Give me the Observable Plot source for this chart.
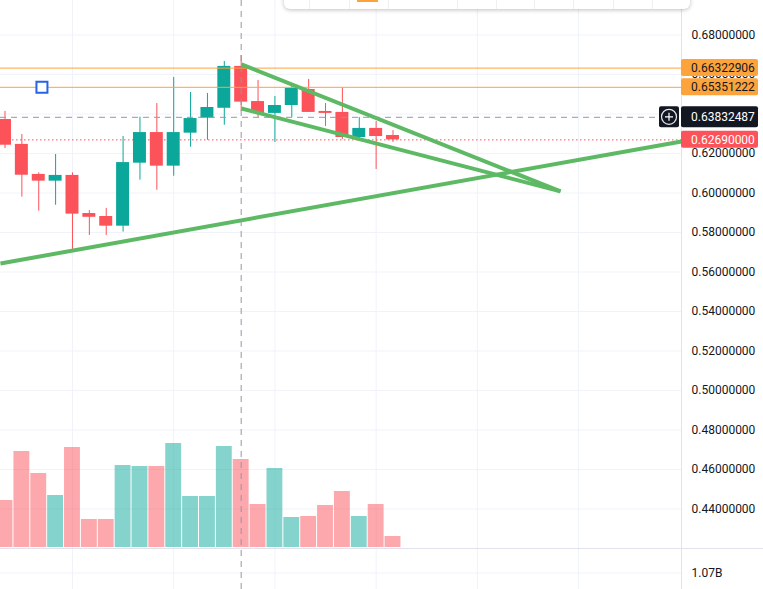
<!DOCTYPE html>
<html><head><meta charset="utf-8">
<script src="https://cdn.jsdelivr.net/npm/d3@7"></script>
<script src="https://cdn.jsdelivr.net/npm/@observablehq/plot@0.6"></script>
<style>
body{margin:0;background:#fff;}
#chart{position:relative;width:763px;height:589px;overflow:hidden;font-family:Roboto,"Liberation Sans",sans-serif;background:#fff;}
#chart > svg{position:absolute;left:0;top:0;}
#sep{position:absolute;left:0;top:548px;width:763px;height:1px;background:#e0e3eb;}
#toolbar{position:absolute;left:284px;top:-8px;width:406px;height:17px;background:#fff;border-radius:6px;box-shadow:0 1px 4px rgba(0,0,0,0.25);z-index:5;}
#toolbar .d{position:absolute;top:8px;width:1px;height:9px;background:#eef0f3;}
#toolbar .o{position:absolute;top:8px;left:73px;width:21px;height:2px;background:#ffa23a;}
</style></head><body>
<div id="chart"></div>
<script>
// ---- data ----
const opens  = [0.6372,0.6246,0.6094,0.6060,0.6089,0.5896,0.5881,0.5832,0.6151,0.6306,0.6136,0.6303,0.6379,0.6429,0.6641,0.6463,0.6403,0.6443,0.6524,0.6413,0.6408,0.6281,0.6327,0.6291];
const highs  = [0.6413,0.6296,0.6102,0.6195,0.6102,0.5911,0.5922,0.6286,0.6384,0.6453,0.6585,0.6509,0.6504,0.6666,0.6696,0.6570,0.6489,0.6554,0.6575,0.6453,0.6534,0.6382,0.6362,0.6316];
const lows   = [0.6225,0.5979,0.5908,0.5938,0.5709,0.5785,0.5785,0.5802,0.6065,0.6014,0.6085,0.6232,0.6267,0.6343,0.6413,0.6382,0.6256,0.6382,0.6408,0.6337,0.6271,0.6271,0.6119,0.6256];
const closes = [0.6242,0.6090,0.6060,0.6089,0.5893,0.5877,0.5832,0.6154,0.6306,0.6136,0.6306,0.6377,0.6433,0.6641,0.6460,0.6403,0.6443,0.6529,0.6408,0.6403,0.6281,0.6327,0.6286,0.6269];
const volumes = [470,960,740,520,1000,280,280,820,810,810,1040,510,510,1010,880,430,790,300,310,420,560,310,430,110]; // millions

const priceTicks = [0.44,0.46,0.48,0.50,0.52,0.54,0.56,0.58,0.60,0.62,0.64,0.66,0.68];
const timeGridIndex = [4,10,16,22,28,34];
const lowerPaneTicks = [1.07e9];

const horizontalLines = [0.66322906, 0.65351222];
const lastPrice = 0.6269;
const crosshairIndex = 14;
const crosshairPrice = 0.63832487;
const lineHandle = [{i: 2.19, p: 0.65351222}];

const trendA = [{i: -0.27, p: 0.5643}, {i: 40.1, p: 0.6261}];
const trendB = [{i: 14.02, p: 0.6651}, {i: 32.93, p: 0.6008}];
const trendC = [{i: 14.02, p: 0.6428}, {i: 32.93, p: 0.6008}];

// ---- styles ----
const UP = "#0ca79b", DOWN = "#fc5259", ORANGE = "#fda33b", GREEN = "#5db963";
const GRID = "#f0f3fa", BORDER = "#e0e3eb", CROSS = "#9598a1", TEXT = "#131722";
const W = 763, H = 589, MR = 82;
const xView = [-0.2667, 40.101];
const priceDomain = [0.44, 0.68], priceRange = [508.5, 34.5];

const candles = opens.map((o, i) => ({i, open: o, high: highs[i], low: lows[i], close: closes[i], volume: volumes[i]}));
const colorOf = d => d.close >= d.open ? UP : DOWN;

const base = {width: W, height: H, marginLeft: 0, marginRight: MR, marginTop: 0, marginBottom: 0,
  style: {background: "transparent", fontFamily: "Roboto, 'Liberation Sans', sans-serif", fontSize: "12px", color: TEXT}};

const chart = document.getElementById("chart");

// grid layer
const gridPlot = Plot.plot({...base,
  x: {domain: xView, axis: null},
  y: {domain: priceDomain, range: priceRange, axis: null},
  marks: [
    Plot.ruleY(priceTicks, {stroke: GRID}),
    Plot.ruleX(timeGridIndex, {stroke: GRID}),
    Plot.frame({anchor: "right", stroke: BORDER})
  ]
});
chart.appendChild(gridPlot);

// lower pane
const lowerPlot = Plot.plot({...base,
  x: {domain: xView, axis: null},
  y: {domain: [0, 1.07e9], range: [640, 572.5]},
  marks: [
    Plot.ruleY(lowerPaneTicks, {stroke: GRID}),
    Plot.axisY(lowerPaneTicks, {anchor: "right", tickSize: 0, tickPadding: 10, fill: TEXT, fontSize: 12,
      tickFormat: d => (d / 1e9).toFixed(2) + "B"})
  ]
});
chart.appendChild(lowerPlot);

// volume layer
const volPlot = Plot.plot({...base,
  x: {domain: xView, axis: null},
  y: {domain: [0, 1040], range: [547, 443], axis: null},
  marks: [
    Plot.rect(candles, {x1: d => d.i - 0.5, x2: d => d.i + 0.5, y1: 0, y2: "volume",
      fill: colorOf, fillOpacity: 0.5, insetLeft: 0.5, insetRight: 0.5})
  ]
});
chart.appendChild(volPlot);

// main layer
const mainPlot = Plot.plot({...base,
  x: {domain: xView, axis: null},
  y: {domain: priceDomain, range: priceRange},
  marks: [
    Plot.axisY(priceTicks, {anchor: "right", tickSize: 0, tickPadding: 10, fill: TEXT, fontSize: 12,
      tickFormat: d => d.toFixed(8)}),
    Plot.ruleY([lastPrice], {stroke: DOWN, strokeDasharray: "1.5 2.5"}),
    Plot.ruleX(candles, {x: "i", y1: "low", y2: "high", stroke: colorOf}),
    Plot.rect(candles, {x1: d => d.i - 0.5, x2: d => d.i + 0.5, y1: "open", y2: "close",
      fill: colorOf, insetLeft: 1.95, insetRight: 1.95}),
    Plot.ruleY(horizontalLines, {stroke: ORANGE}),
    Plot.line(trendA, {x: "i", y: "p", stroke: GREEN, strokeWidth: 4, strokeLinecap: "butt"}),
    Plot.line(trendB, {x: "i", y: "p", stroke: GREEN, strokeWidth: 4, strokeLinecap: "butt"}),
    Plot.line(trendC, {x: "i", y: "p", stroke: GREEN, strokeWidth: 4, strokeLinecap: "butt"}),
    Plot.dot(lineHandle, {x: "i", y: "p", symbol: "square", r: 6.2, stroke: "#2464e6", strokeWidth: 2, fill: "#fff"}),
    Plot.ruleX([crosshairIndex], {stroke: CROSS, strokeDasharray: "6 5"}),
    Plot.ruleY([crosshairPrice], {stroke: CROSS, strokeDasharray: "6 5"})
  ]
});
chart.appendChild(mainPlot);

// price badges on the axis
const ys = mainPlot.scale("y");
const svg = d3.select(mainPlot);
const badges = [
  {p: horizontalLines[0], bg: ORANGE, fg: TEXT, h: 17},
  {p: horizontalLines[1], bg: ORANGE, fg: TEXT, h: 17},
  {p: lastPrice, bg: DOWN, fg: "#ffffff", h: 17},
  {p: crosshairPrice, bg: TEXT, fg: "#ffffff", h: 21}
];
const axisX = W - MR;
for (const b of badges) {
  const cy = ys.apply(b.p);
  svg.append("rect").attr("x", axisX).attr("y", cy - b.h / 2).attr("width", 77).attr("height", b.h)
    .attr("rx", 2).attr("fill", b.bg);
  svg.append("text").attr("x", axisX + 10).attr("y", cy).attr("dy", "0.35em")
    .attr("text-anchor", "start").attr("fill", b.fg).attr("font-size", 12).text(b.p.toFixed(8));
}
{
  const cy = ys.apply(crosshairPrice);
  const g = svg.append("g");
  g.append("rect").attr("x", axisX - 22).attr("y", cy - 10.5).attr("width", 20).attr("height", 21).attr("rx", 2).attr("fill", TEXT);
  g.append("circle").attr("cx", axisX - 12).attr("cy", cy).attr("r", 7.5).attr("fill", "none").attr("stroke", "#e8e9ec").attr("stroke-width", 1.2);
  g.append("path").attr("d", `M${axisX - 16},${cy}H${axisX - 8}M${axisX - 12},${cy - 4}V${cy + 4}`).attr("stroke", "#ffffff").attr("stroke-width", 1.2);
}

// chrome
const sep = document.createElement("div"); sep.id = "sep"; chart.appendChild(sep);
const tb = document.createElement("div"); tb.id = "toolbar";
for (const dx of [25, 65, 104, 173, 212, 250, 289, 329, 368]) {
  const d = document.createElement("div"); d.className = "d"; d.style.left = dx + "px"; tb.appendChild(d);
}
const o = document.createElement("div"); o.className = "o"; tb.appendChild(o);
chart.appendChild(tb);
</script>
</body></html>
